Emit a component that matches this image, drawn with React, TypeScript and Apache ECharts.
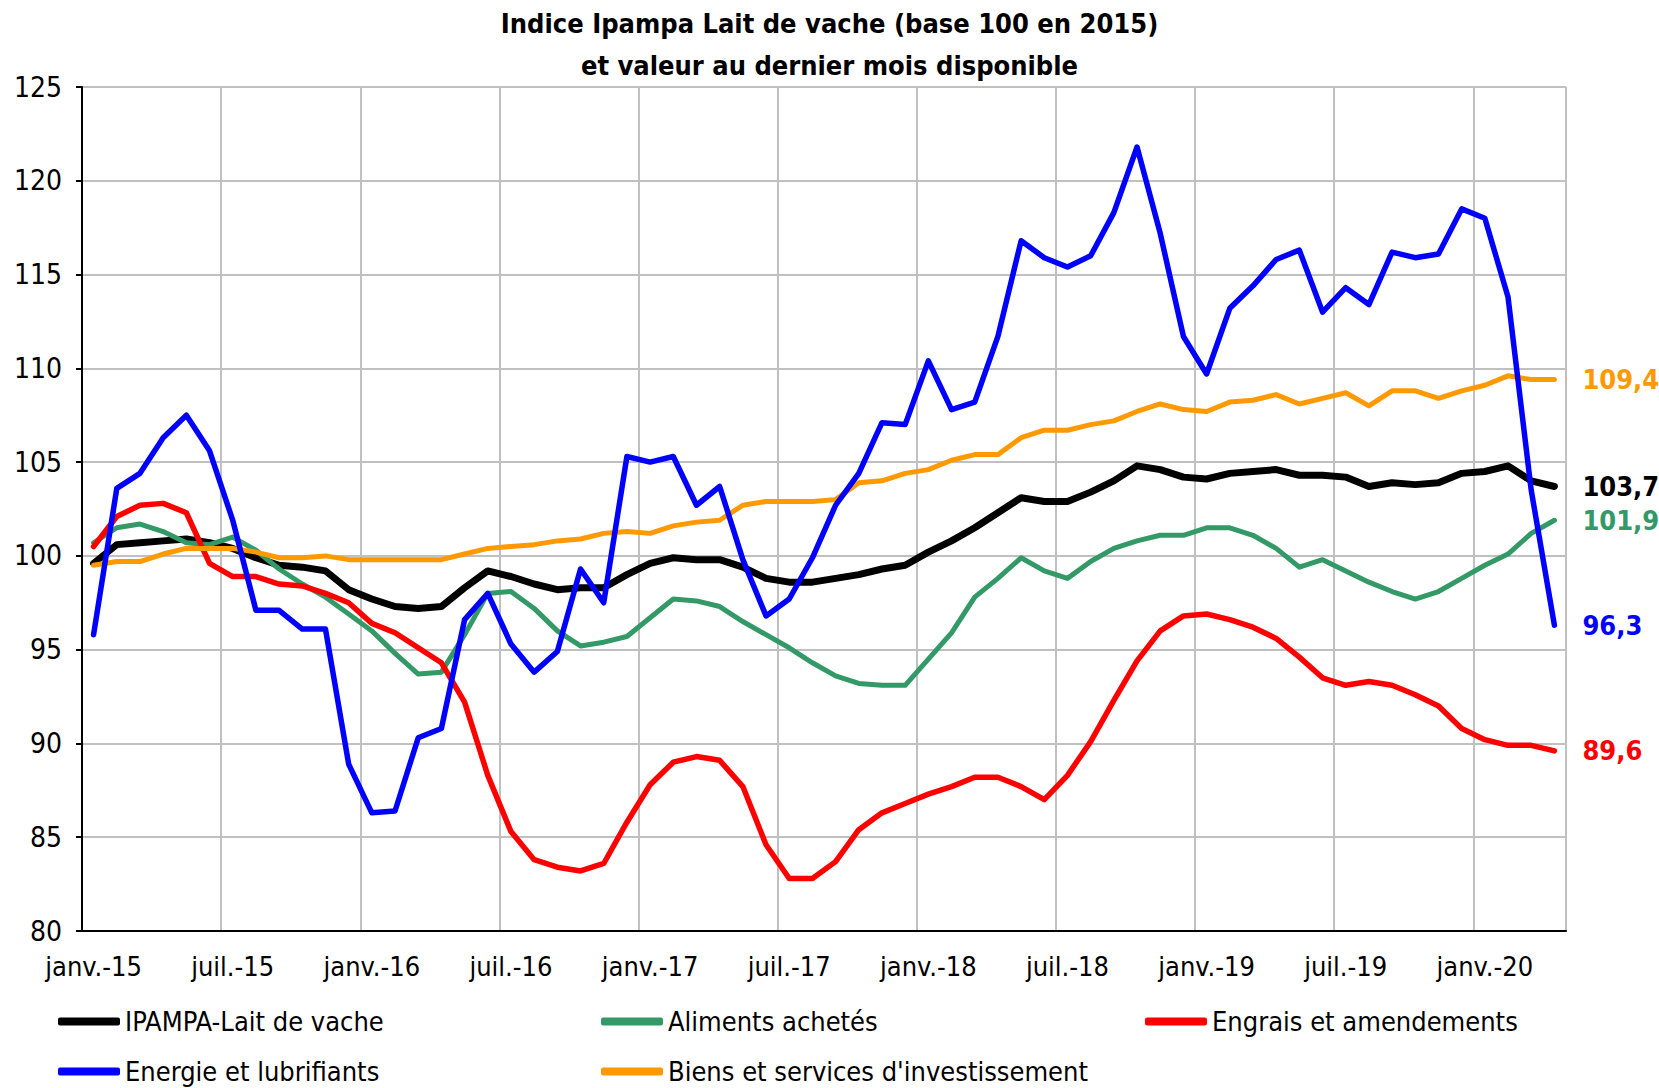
import React, { useEffect, useRef } from "react";
import * as echarts from "echarts";

const FONT = "'Liberation Sans Narrow', 'DejaVu Sans Condensed', 'Open Sans', sans-serif";

const months: string[] = [
  "janv.-15", "févr.-15", "mars-15", "avr.-15", "mai-15", "juin-15", "juil.-15", "août-15", "sept.-15", "oct.-15", "nov.-15", "déc.-15",
  "janv.-16", "févr.-16", "mars-16", "avr.-16", "mai-16", "juin-16", "juil.-16", "août-16", "sept.-16", "oct.-16", "nov.-16", "déc.-16",
  "janv.-17", "févr.-17", "mars-17", "avr.-17", "mai-17", "juin-17", "juil.-17", "août-17", "sept.-17", "oct.-17", "nov.-17", "déc.-17",
  "janv.-18", "févr.-18", "mars-18", "avr.-18", "mai-18", "juin-18", "juil.-18", "août-18", "sept.-18", "oct.-18", "nov.-18", "déc.-18",
  "janv.-19", "févr.-19", "mars-19", "avr.-19", "mai-19", "juin-19", "juil.-19", "août-19", "sept.-19", "oct.-19", "nov.-19", "déc.-19",
  "janv.-20", "févr.-20", "mars-20", "avr.-20",
];

const ipampa: number[] = [
  99.6, 100.6, 100.7, 100.8, 100.9, 100.7, 100.4, 99.9, 99.5, 99.4, 99.2, 98.2,
  97.7, 97.3, 97.2, 97.3, 98.3, 99.2, 98.9, 98.5, 98.2, 98.3, 98.3, 99.0,
  99.6, 99.9, 99.8, 99.8, 99.4, 98.8, 98.6, 98.6, 98.8, 99.0, 99.3, 99.5,
  100.2, 100.8, 101.5, 102.3, 103.1, 102.9, 102.9, 103.4, 104.0, 104.8, 104.6, 104.2,
  104.1, 104.4, 104.5, 104.6, 104.3, 104.3, 104.2, 103.7, 103.9, 103.8, 103.9, 104.4,
  104.5, 104.8, 104.0, 103.7,
];

const aliments: number[] = [
  100.7, 101.5, 101.7, 101.3, 100.7, 100.6, 101.0, 100.3, 99.3, 98.5, 97.8, 96.9,
  96.0, 94.8, 93.7, 93.8, 95.8, 98.0, 98.1, 97.2, 96.0, 95.2, 95.4, 95.7,
  96.7, 97.7, 97.6, 97.3, 96.5, 95.8, 95.1, 94.3, 93.6, 93.2, 93.1, 93.1,
  94.5, 95.9, 97.8, 98.8, 99.9, 99.2, 98.8, 99.7, 100.4, 100.8, 101.1, 101.1,
  101.5, 101.5, 101.1, 100.4, 99.4, 99.8, 99.2, 98.6, 98.1, 97.7, 98.1, 98.8,
  99.5, 100.1, 101.2, 101.9,
];

const engrais: number[] = [
  100.5, 102.1, 102.7, 102.8, 102.3, 99.6, 98.9, 98.9, 98.5, 98.4, 98.0, 97.5,
  96.4, 95.9, 95.1, 94.3, 92.2, 88.3, 85.3, 83.8, 83.4, 83.2, 83.6, 85.8,
  87.8, 89.0, 89.3, 89.1, 87.7, 84.6, 82.8, 82.8, 83.7, 85.4, 86.3, 86.8,
  87.3, 87.7, 88.2, 88.2, 87.7, 87.0, 88.3, 90.1, 92.3, 94.4, 96.0, 96.8,
  96.9, 96.6, 96.2, 95.6, 94.6, 93.5, 93.1, 93.3, 93.1, 92.6, 92.0, 90.8,
  90.2, 89.9, 89.9, 89.6,
];

const energie: number[] = [
  95.8, 103.6, 104.4, 106.3, 107.5, 105.6, 101.9, 97.1, 97.1, 96.1, 96.1, 88.9,
  86.3, 86.4, 90.3, 90.8, 96.6, 98.0, 95.3, 93.8, 94.9, 99.3, 97.5, 105.3,
  105.0, 105.3, 102.7, 103.7, 99.8, 96.8, 97.7, 99.9, 102.7, 104.4, 107.1, 107.0,
  110.4, 107.8, 108.2, 111.7, 116.8, 115.9, 115.4, 116.0, 118.3, 121.8, 117.2, 111.7,
  109.7, 113.2, 114.4, 115.8, 116.3, 113.0, 114.3, 113.4, 116.2, 115.9, 116.1, 118.5,
  118.0, 113.8, 103.5, 96.3,
];

const biens: number[] = [
  99.5, 99.7, 99.7, 100.1, 100.4, 100.4, 100.4, 100.2, 99.9, 99.9, 100.0, 99.8,
  99.8, 99.8, 99.8, 99.8, 100.1, 100.4, 100.5, 100.6, 100.8, 100.9, 101.2, 101.3,
  101.2, 101.6, 101.8, 101.9, 102.7, 102.9, 102.9, 102.9, 103.0, 103.9, 104.0, 104.4,
  104.6, 105.1, 105.4, 105.4, 106.3, 106.7, 106.7, 107.0, 107.2, 107.7, 108.1, 107.8,
  107.7, 108.2, 108.3, 108.6, 108.1, 108.4, 108.7, 108.0, 108.8, 108.8, 108.4, 108.8,
  109.1, 109.6, 109.4, 109.4,
];

const yTicks = { min: 80, max: 125, interval: 5 };

const seriesDefs = [
  { name: "IPAMPA-Lait de vache", data: ipampa, color: "#000000", width: 7 },
  { name: "Aliments achetés", data: aliments, color: "#339966", width: 5 },
  { name: "Engrais et amendements", data: engrais, color: "#ff0000", width: 5.5 },
  { name: "Biens et services d'investissement", data: biens, color: "#ff9900", width: 5 },
  { name: "Energie et lubrifiants", data: energie, color: "#0000ff", width: 5.5 },
];

const legendPos = [
  { name: "IPAMPA-Lait de vache", left: 58, top: 1008 },
  { name: "Aliments achetés", left: 601, top: 1008 },
  { name: "Engrais et amendements", left: 1145, top: 1008 },
  { name: "Energie et lubrifiants", left: 58, top: 1058 },
  { name: "Biens et services d'investissement", left: 601, top: 1058 },
];

export default function App() {
  const ref = useRef<HTMLDivElement>(null);
  useEffect(() => {
    if (!ref.current) return;
    const chart = echarts.init(ref.current, undefined, { renderer: "svg" });
    const fmt = (p: any) => Number(p.value).toFixed(1).replace(".", ",");
    chart.setOption({
      animation: false,
      backgroundColor: "#ffffff",
      textStyle: { fontFamily: FONT },
      title: {
        text: "Indice Ipampa Lait de vache (base 100 en 2015)\net valeur au dernier mois disponible",
        left: "center",
        top: -3,
        textStyle: { fontFamily: FONT, fontSize: 27, fontWeight: "bold", color: "#000", lineHeight: 42 },
      },
      grid: { left: 82, top: 87, right: 93, bottom: 157, containLabel: false },
      legend: legendPos.map((l) => ({
        data: [l.name],
        left: l.left,
        top: l.top,
        icon: "roundRect",
        itemWidth: 62,
        itemHeight: 8,
        padding: 0,
        textStyle: { fontFamily: FONT, fontSize: 27, color: "#000" },
      })),
      xAxis: {
        type: "category",
        data: months,
        boundaryGap: true,
        axisLine: { lineStyle: { color: "#000", width: 2 } },
        axisTick: { interval: 5, length: 8, lineStyle: { color: "#000", width: 2 } },
        axisLabel: { interval: 5, fontSize: 27, color: "#000", margin: 22, fontFamily: FONT },
        splitLine: { show: true, interval: 5, lineStyle: { color: "#c0c0c0", width: 2 } },
      },
      yAxis: {
        type: "value",
        min: yTicks.min,
        max: yTicks.max,
        interval: yTicks.interval,
        axisLine: { show: true, lineStyle: { color: "#000", width: 2 } },
        axisTick: { show: true, length: 6, lineStyle: { color: "#000", width: 2 } },
        axisLabel: { fontSize: 28, color: "#000", margin: 20, fontFamily: FONT },
        splitLine: { show: true, lineStyle: { color: "#c0c0c0", width: 2 } },
      },
      series: seriesDefs.map((s) => ({
        name: s.name,
        type: "line",
        data: s.data,
        showSymbol: false,
        symbol: "none",
        lineStyle: { color: s.color, width: s.width, join: "round", cap: "round" },
        itemStyle: { color: s.color },
        endLabel: {
          show: true,
          formatter: fmt,
          color: s.color,
          fontSize: 27,
          fontWeight: "bold",
          fontFamily: FONT,
          distance: 28,
        },
        emphasis: { disabled: true },
      })),
    });
    return () => chart.dispose();
  }, []);
  return (
    <div
      ref={ref}
      style={{ position: "absolute", left: 0, top: 0, width: 1659, height: 1088 }}
    />
  );
}
